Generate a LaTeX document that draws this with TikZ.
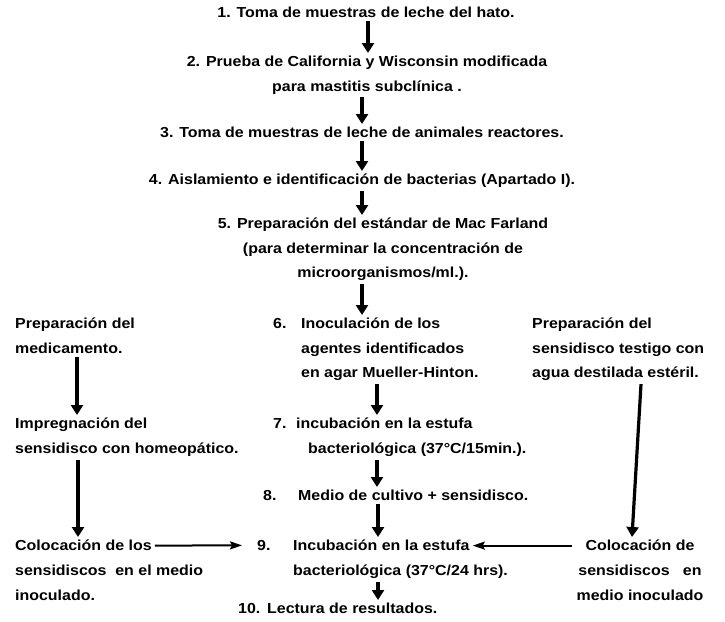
\documentclass[tikz,border=0pt]{standalone}
\usepackage{fontspec}
\setmainfont[FakeStretch=1.1]{Liberation Sans}
\usetikzlibrary{arrows.meta}
\tikzset{flecha/.style={-{Triangle[width=12pt,length=10pt]},line width=3.2pt},
 flechafina/.style={-{Stealth[width=8pt,length=12pt,inset=2pt]},line width=2pt},
 every node/.style={font=\fontsize{14.5}{24.5}\selectfont\bfseries,inner sep=3pt}}

\begin{document}
\begin{tikzpicture}[x=1pt,y=-1pt]
\useasboundingbox (0,0) rectangle (725,621);
% columnas de las flechas
\coordinate (xa) at (368,0);
\coordinate (xb) at (362,0);
\coordinate (xc) at (377,0);
\coordinate (xd) at (378,0);
\coordinate (xl1) at (77,0);
\coordinate (xl2) at (78,0);
\coordinate (xr1) at (641,0);
\coordinate (xr2) at (632,0);
% pasos centrales
\node[anchor=north] (s1) at (366,4) {1. Toma de muestras de leche del hato.};
\node[anchor=north,align=center] (s2) at (367,53) {2. Prueba de California y Wisconsin modificada\\para mastitis subclínica .};
\node[anchor=north] (s3) at (362,124) {3. Toma de muestras de leche de animales reactores.};
\node[anchor=north] (s4) at (362,171) {4. Aislamiento e identificación de bacterias (Apartado I).};
\node[anchor=north,align=center] (s5) at (383,215) {5. Preparación del estándar de Mac Farland\\(para determinar la concentración de\\microorganismos/ml.).};
\node[anchor=north west] (n6) at (270,315) {6.};
\node[anchor=north west,align=left] (s6) at (298,315) {Inoculación de los\\agentes identificados\\en agar Mueller-Hinton.};
\node[anchor=north west] (n7) at (270,415) {7.};
\node[anchor=north west,align=left] (s7) at (293,415) {incubación en la estufa\\\hspace*{12pt}bacteriológica (37°C/15min.).};
\node[anchor=north west] (n8) at (260,487) {8.};
\node[anchor=north west] (s8) at (295,487) {Medio de cultivo + sensidisco.};
\node[anchor=north west] (n9) at (254,537) {9.};
\node[anchor=north west] (s9) at (290,537) {Incubación en la estufa};
\node[anchor=north west] (s9b) at (290,562) {bacteriológica (37°C/24 hrs).};
\node[anchor=north west] (n10) at (235,600) {10.};
\node[anchor=north west] (s10) at (264,600) {Lectura de resultados.};
% columna izquierda
\node[anchor=north west,align=left] (L1) at (12,315) {Preparación del\\medicamento.};
\node[anchor=north west,align=left] (L2) at (12,415) {Impregnación del\\sensidisco con homeopático.};
\node[anchor=north west] (L3) at (12,537) {Colocación de los};
\node[anchor=north west,align=left] (L3b) at (12,562) {sensidiscos\ \ en el medio\\inoculado.};
% columna derecha
\node[anchor=north west,align=left] (R1) at (529,315) {Preparación del\\sensidisco testigo con\\agua destilada estéril.};
\node[anchor=north] (R2) at (640,537) {Colocación de};
\node[anchor=north,align=center] (R2b) at (640,562) {sensidiscos\ \ \ en\\medio inoculado};
% flechas
\draw[flecha] (s1.south -| xa) -- (s2.north -| xa);
\draw[flecha] (s2.south -| xb) -- (s3.north -| xb);
\draw[flecha] (s3.south -| xb) -- (s4.north -| xb);
\draw[flecha] (s4.south -| xb) -- (s5.north -| xb);
\draw[flecha] (s5.south -| xb) -- (s6.north -| xb);
\draw[flecha] (s6.south -| xc) -- (s7.north -| xc);
\draw[flecha] (s7.south -| xc) -- (s8.north -| xc);
\draw[flecha] (s8.south -| xd) -- (s9.north -| xd);
\draw[flecha] (s9b.south -| xd) -- (s10.north -| xd);
\draw[flecha] (L1.south -| xl1) -- (L2.north -| xl1);
\draw[flecha] (L2.south -| xl2) -- (L3.north -| xl2);
\draw[flecha] (R1.south -| xr1) -- (R2.north -| xr2);
\draw[flechafina,shorten >=12pt] (L3.east) -- (n9.west);
\draw[flechafina,shorten <=10pt] (R2.west) -- (s9.east);
\end{tikzpicture}
\end{document}
